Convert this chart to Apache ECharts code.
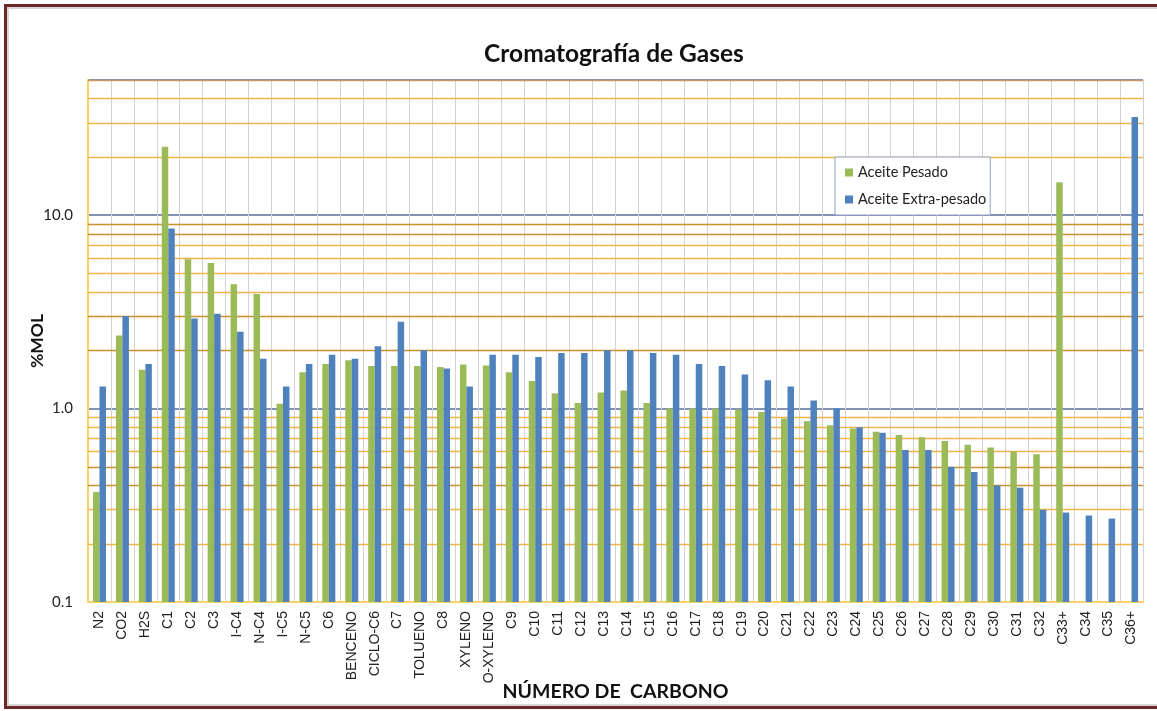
<!DOCTYPE html>
<html>
<head>
<meta charset="utf-8">
<script src="https://cdn.jsdelivr.net/npm/echarts@6/dist/echarts.min.js"></script>
<style>
html, body { margin: 0; padding: 0; background: #fff; overflow: hidden; }
#main { position: absolute; left: 0; top: 0; width: 1157px; height: 711px; }
#frame {
    position: absolute; left: 4px; top: 4px; width: 1170px; height: 699px;
    border: 3px solid #6B2828; box-shadow: inset 0 0 0 2px #d6d6d6;
    pointer-events: none;
}
</style>
</head>
<body>
<div id="main"></div>
<div id="frame"></div>
<script>
// categorias (eje X)
var categories = ['N2', 'CO2', 'H2S', 'C1', 'C2', 'C3', 'I-C4', 'N-C4', 'I-C5', 'N-C5', 'C6',
    'BENCENO', 'CICLO-C6', 'C7', 'TOLUENO', 'C8', 'XYLENO', 'O-XYLENO', 'C9', 'C10', 'C11',
    'C12', 'C13', 'C14', 'C15', 'C16', 'C17', 'C18', 'C19', 'C20', 'C21', 'C22', 'C23', 'C24',
    'C25', 'C26', 'C27', 'C28', 'C29', 'C30', 'C31', 'C32', 'C33+', 'C34', 'C35', 'C36+'];

// %MOL aceite pesado
var pesado = [0.37, 2.39, 1.59, 22.6, 5.92, 5.66, 4.40, 3.91, 1.06, 1.54, 1.70,
    1.78, 1.66, 1.66, 1.66, 1.64, 1.69, 1.67, 1.54, 1.39, 1.20,
    1.07, 1.21, 1.24, 1.07, 1.00, 1.00, 1.00, 0.99, 0.96, 0.89, 0.86, 0.82, 0.79,
    0.76, 0.73, 0.71, 0.68, 0.65, 0.63, 0.60, 0.58, 14.8, null, null, null];

// %MOL aceite extra-pesado
var extraPesado = [1.30, 3.01, 1.70, 8.53, 2.92, 3.09, 2.50, 1.81, 1.30, 1.70, 1.90,
    1.81, 2.10, 2.81, 2.00, 1.61, 1.30, 1.90, 1.90, 1.85, 1.94,
    1.94, 2.00, 2.00, 1.94, 1.90, 1.70, 1.66, 1.50, 1.40, 1.30, 1.10, 1.00, 0.80,
    0.75, 0.61, 0.61, 0.50, 0.47, 0.40, 0.39, 0.30, 0.29, 0.28, 0.27, 32.2];

// lineas secundarias de la escala logaritmica
var minorGrid = [0.2, 0.3, 0.4, 0.5, 0.6, 0.7, 0.8, 0.9,
    2, 3, 4, 5, 6, 7, 8, 9, 20, 30, 40, 50];
var darkGrid = [0.4, 0.5, 2, 3, 8, 9];

var yMin = 0.1, yMax = 50;

var chart = echarts.init(document.getElementById('main'));

var gridLines = minorGrid.map(function (v) {
    var c = darkGrid.indexOf(v) >= 0 ? '#C8902F' : '#F2B448';
    if (v === 50) c = '#C9976C';
    return { yAxis: v, lineStyle: { color: c } };
});

var option = {
    animation: false,
    backgroundColor: '#fff',
    title: {
        text: 'Cromatografía de Gases',
        left: 609,
        textAlign: 'center',
        top: 37,
        textStyle: { fontFamily: 'Lato', fontWeight: 'bold', fontSize: 24.5, color: '#111' }
    },
    legend: {
        data: ['Aceite Pesado', 'Aceite Extra-pesado'],
        orient: 'vertical',
        left: 835,
        top: 157,
        icon: 'rect',
        itemWidth: 8,
        itemHeight: 8,
        itemGap: 12,
        padding: [8, 4, 8, 10],
        borderColor: '#8F9FC6',
        borderWidth: 1,
        backgroundColor: '#fff',
        textStyle: { fontFamily: 'Lato', fontSize: 14.5, color: '#222' }
    },
    grid: { left: 88, right: 14, top: 80, bottom: 109, outerBoundsMode: 'none' },
    xAxis: {
        type: 'category',
        data: categories,
        name: 'NÚMERO DE  CARBONO',
        nameLocation: 'middle',
        nameGap: 80,
        nameMoveOverlap: false,
        nameTextStyle: { fontFamily: 'Lato', fontWeight: 'bold', fontSize: 19.5, color: '#111' },
        axisLine: { lineStyle: { color: '#F7D36A', width: 2 } },
        axisTick: { show: false },
        axisLabel: {
            interval: 0, rotate: 90, margin: 9,
            fontFamily: 'Liberation Sans', fontSize: 14, color: '#222'
        },
        splitLine: { show: true, lineStyle: { color: '#D2D2D2' } }
    },
    yAxis: {
        type: 'log',
        logBase: 10,
        min: yMin,
        max: yMax,
        startValue: yMin,
        name: '%MOL',
        nameLocation: 'middle',
        nameGap: 42,
        nameMoveOverlap: false,
        nameTextStyle: { fontFamily: 'Lato', fontWeight: 'bold', fontSize: 17.5, color: '#111' },
        axisLine: { show: true, lineStyle: { color: '#F7D36A', width: 2 } },
        axisTick: { show: false },
        axisLabel: {
            margin: 15, fontFamily: 'Lato', fontSize: 15, color: '#222',
            formatter: function (v) {
                var lv = Math.log10(v);
                return Math.abs(lv - Math.round(lv)) < 1e-6 ? v.toFixed(1) : '';
            }
        },
        splitLine: { show: true, lineStyle: { color: '#5A6D9C', width: 1.5 } }
    },
    series: [{
        name: 'lineas',
        type: 'line',
        data: categories.map(function () { return null; }),
        showSymbol: false,
        silent: true,
        z: 1,
        markLine: {
            z: 1,
            silent: true,
            symbol: ['none', 'none'],
            label: { show: false },
            lineStyle: { type: 'solid', width: 1.4 },
            data: gridLines
        }
    }, {
        name: 'Aceite Pesado',
        type: 'bar',
        data: pesado,
        barWidth: 6.5,
        barGap: '0%',
        z: 3,
        itemStyle: { color: '#9BBB59' }
    }, {
        name: 'Aceite Extra-pesado',
        type: 'bar',
        data: extraPesado,
        barWidth: 6.5,
        z: 3,
        itemStyle: { color: '#4F81BD' }
    }]
};

chart.setOption(option);
</script>
</body>
</html>
